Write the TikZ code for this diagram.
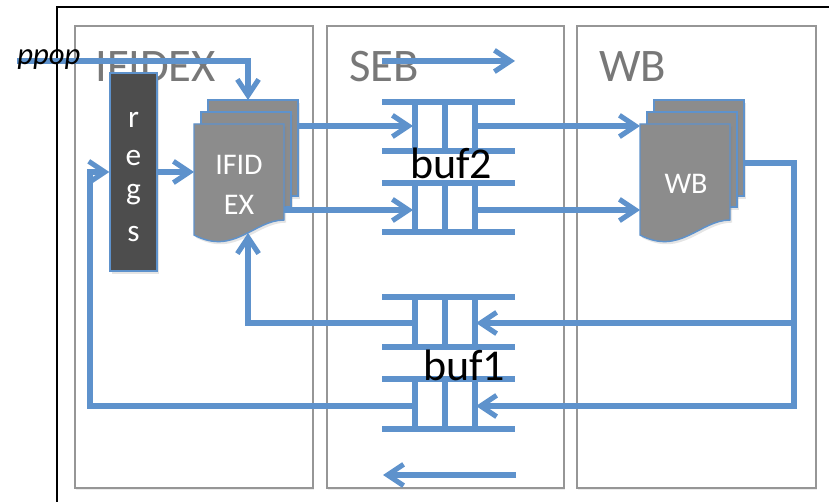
\documentclass[tikz,border=0pt]{standalone}
\usepackage{fontspec}
\setmainfont{Carlito}
\usetikzlibrary{arrows.meta,shadows}
\definecolor{lblue}{RGB}{94,146,204}
\definecolor{pagegray}{RGB}{140,140,140}
\definecolor{regsgray}{RGB}{77,77,77}
\definecolor{colgray}{RGB}{150,150,150}
\definecolor{titlegray}{RGB}{120,120,120}
\newcommand{\docstack}[3]{%
  \path[pageshape] (#1+14,#2-24) rectangle (#1+104,#2+72);
  \path[pageshape] (#1+7,#2-12) rectangle (#1+97,#2+83);
  \path[pageshape] (#1,#2) -- (#1+90,#2) -- (#1+90,#2+96)
     .. controls (#1+60,#2+96) and (#1+40,#2+132) .. (#1,#2+111) -- cycle;
}
\begin{document}
\begin{tikzpicture}[x=0.75pt,y=-0.75pt,
  wire/.style={draw=lblue,line width=3.8pt},
  arr/.style={wire,-{Straight Barb[length=12pt,width=16pt]}},
  colbox/.style={draw=colgray,line width=1.1pt,fill=white,
     drop shadow={shadow xshift=1pt,shadow yshift=-1.5pt,opacity=0.15}},
  pageshape/.style={draw=lblue,line width=1.1pt,fill=pagegray,
     drop shadow={shadow xshift=1.5pt,shadow yshift=-2pt,opacity=0.2}},
  title/.style={anchor=base west,text=titlegray,font=\fontsize{35}{40}\selectfont,inner sep=0pt},
  pagetext/.style={text=white,font=\fontsize{22.5}{30}\selectfont,align=center,inner sep=0pt},
  buflabel/.style={text=black,font=\fontsize{33}{38}\selectfont,inner sep=0pt},
  regsbox/.style={draw=lblue,line width=1.1pt,fill=regsgray,minimum width=35.25pt,minimum height=148.5pt,inner sep=0pt,
     drop shadow={shadow xshift=1.5pt,shadow yshift=-2pt,opacity=0.2}}
]
\useasboundingbox (0,0) rectangle (829,502);
\clip (0,0) rectangle (829,502);
% outer frame
\draw[black,line width=1.5pt] (57,520) -- (57,7) -- (850,7);
% columns
\path[colbox] (75,26) rectangle (313,488);
\path[colbox] (327,26) rectangle (564,488);
\path[colbox] (577,26) rectangle (816,488);
\node[title] (tif) at (95,82) {IFIDEX};
\node[title] (tseb) at (349,82) {SEB};
\node[title] (twb) at (599,82) {WB};
% regs
\node[regsbox] (regs) at (133.5,172) {};
\foreach \c/\yy in {r/120,e/158,g/195,s/234}
  \node[text=white,font=\fontsize{23.5}{27}\selectfont] (regs\c) at (133.5,\yy) {\c};
% document stacks
\docstack{194}{124}{if}
\docstack{640}{124}{wb}
\node[pagetext] (iftext) at (239,185) {IFID\\EX};
\node[pagetext] (wbtext) at (686,184) {WB};
% named points
\coordinate (ppopA) at (17,61);
\coordinate (ifin) at (248,100);
\coordinate (ifW) at (194,172);
\coordinate (ifbackE) at (298,126);
\coordinate (iffrontE) at (284,210);
\coordinate (ifbot) at (248,233);
\coordinate (wbfrontW1) at (640,126);
\coordinate (wbfrontW2) at (640,210);
\coordinate (wbbackE) at (745,163);
\coordinate (wbcorner) at (794,406);
\coordinate (wbbranch) at (794,323);
\coordinate (b2inA) at (413,126);
\coordinate (b2inB) at (413,210);
\coordinate (b2outA) at (475,126);
\coordinate (b2outB) at (475,210);
\coordinate (b1inA) at (476,323);
\coordinate (b1inB) at (476,406);
\coordinate (b1outA) at (415,323);
\coordinate (b1outB) at (415,406);
\coordinate (fbx) at (90,172);
\coordinate (sebTopA) at (382,61);
\coordinate (sebTopB) at (515,61);
\coordinate (sebBotA) at (516,475);
\coordinate (sebBotB) at (383,475);
% buffers
\foreach \yy in {102,151,183,232,297,347,379,429}
  \draw[wire] (382,\yy) -- (515,\yy);
\foreach \xx in {415,445,475} {
  \draw[wire] (\xx,102) -- (\xx,151);
  \draw[wire] (\xx,183) -- (\xx,232);
  \draw[wire] (\xx,297) -- (\xx,347);
  \draw[wire] (\xx,379) -- (\xx,429);
}
% connectors
\draw[arr] (ppopA) -| (ifin);
\draw[arr] (regs.east) -- (ifW);
\draw[arr] (ifbackE) -- (b2inA);
\draw[arr] (iffrontE) -- (b2inB);
\draw[arr] (b2outA) -- (wbfrontW1);
\draw[arr] (b2outB) -- (wbfrontW2);
\draw[arr] (wbbackE) -| (wbcorner) -- (b1inB);
\draw[arr] (wbbranch) -- (b1inA);
\draw[arr] (b1outA) -| (ifbot);
\draw[arr] (b1outB) -| (fbx) -- (regs.west);
\draw[arr] (sebTopA) -- (sebTopB);
\draw[arr] (sebBotA) -- (sebBotB);
% labels
\node[buflabel] (buf2) at (451,163) {buf2};
\node[buflabel] (buf1) at (464,365) {buf1};
\node[anchor=base west,inner sep=0pt,font=\itshape\fontsize{23}{26}\selectfont] (ppop) at (17,65) {ppop};
\end{tikzpicture}
\end{document}
